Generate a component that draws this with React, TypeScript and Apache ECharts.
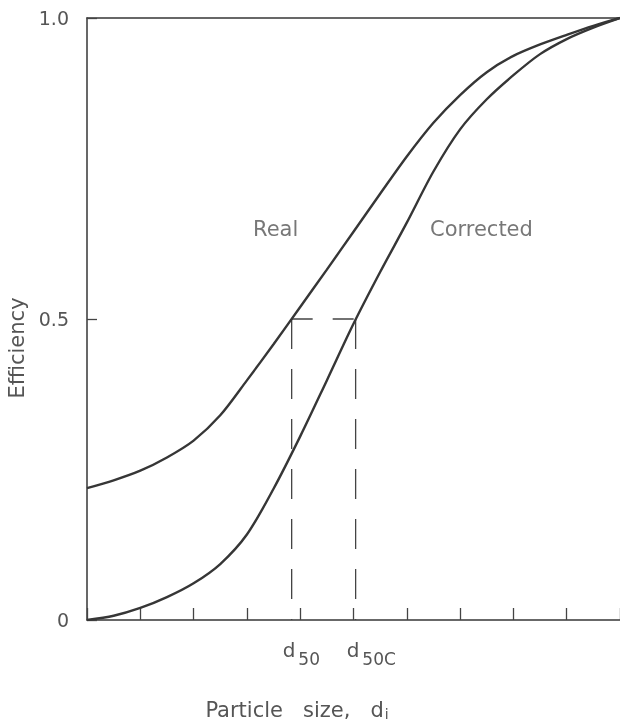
import React, { useEffect, useRef } from "react";
import * as echarts from "echarts";

// Particle size (arbitrary units, 0..10 across the axis) and efficiency
const sizeX = [0, 0.5, 1, 1.5, 2, 2.5, 3, 3.5, 4, 4.5, 5, 5.5, 6, 6.5, 7, 7.5, 8, 8.5, 9, 9.5, 10];
const realY = [0.219, 0.232, 0.248, 0.27, 0.298, 0.34, 0.398, 0.458, 0.52, 0.582, 0.645, 0.708, 0.77, 0.826, 0.872, 0.91, 0.937, 0.956, 0.972, 0.987, 1.0];
const corrY = [0, 0.007, 0.02, 0.038, 0.061, 0.093, 0.142, 0.218, 0.305, 0.398, 0.492, 0.578, 0.66, 0.745, 0.815, 0.865, 0.905, 0.94, 0.965, 0.984, 1.0];

const d50 = 3.84;
const d50c = 5.04;
const halfEff = 0.5;

const yTickLabels: Record<string, string> = { "0": "0", "0.5": "0.5", "1": "1.0" };
const xCutLabels = ["{d|d}{s|50}", "{d|d}{s|50C}"];
const curveNames = ["Real", "Corrected"];
const curveLabelPos = [
  [3.54, 0.65],
  [7.4, 0.65],
];

const FONT = "DejaVu Sans";
const TEXT = "#555";
const LINE = "#363636";

export default function App() {
  const ref = useRef<HTMLDivElement>(null);

  useEffect(() => {
    if (!ref.current) return;
    const chart = echarts.init(ref.current, undefined, { renderer: "svg" });

    const zip = (xs: number[], ys: number[]) => xs.map((x, i) => [x, ys[i]]);
    const dash = (pts: number[][], pattern: number[]) => ({
      type: "line",
      data: pts,
      symbol: "none",
      silent: true,
      lineStyle: { color: "#444", width: 1.3, type: pattern },
      z: 1,
    });

    chart.setOption({
      animation: false,
      grid: { left: 87, right: 0, top: 18, bottom: 102, containLabel: false },
      xAxis: [
        {
          type: "value",
          min: 0,
          max: 10,
          interval: 1,
          position: "bottom",
          axisLine: { show: true, lineStyle: { color: LINE, width: 1.5 } },
          axisTick: { show: true, inside: true, length: 12, lineStyle: { color: "#444", width: 1.3 } },
          splitLine: { show: false },
          axisLabel: {
            show: true,
            customValues: [d50, d50c],
            formatter: (v: number) => (Math.abs(v - d50) < 1e-6 ? xCutLabels[0] : xCutLabels[1]),
            align: "left",
            margin: 20,
            padding: [0, 0, 0, -9],
            rich: {
              d: { fontFamily: FONT, fontSize: 20, color: TEXT, verticalAlign: "bottom", padding: [0, 0, 7, 0] },
              s: { fontFamily: FONT, fontSize: 17, color: TEXT, verticalAlign: "bottom", padding: [0, 0, 0, 3] },
            },
          },
        },
        {
          type: "value",
          min: 0,
          max: 10,
          position: "top",
          axisLine: { show: true, lineStyle: { color: LINE, width: 1.5 } },
          axisTick: { show: false },
          axisLabel: { show: false },
          splitLine: { show: false },
        },
      ],
      yAxis: {
        type: "value",
        min: 0,
        max: 1,
        interval: 0.5,
        axisLine: { show: true, lineStyle: { color: LINE, width: 1.5 } },
        axisTick: { show: true, inside: true, length: 10, lineStyle: { color: "#444", width: 1.3 } },
        splitLine: { show: false },
        axisLabel: {
          formatter: (v: number) => yTickLabels[String(v)] ?? String(v),
          fontFamily: FONT,
          fontSize: 19,
          color: TEXT,
          margin: 18,
        },
      },
      series: [
        {
          name: curveNames[0],
          type: "line",
          data: zip(sizeX, realY),
          smooth: 0.3,
          symbol: "none",
          lineStyle: { color: LINE, width: 2.4 },
          z: 3,
        },
        {
          name: curveNames[1],
          type: "line",
          data: zip(sizeX, corrY),
          smooth: 0.3,
          symbol: "none",
          lineStyle: { color: LINE, width: 2.4 },
          z: 3,
        },
        dash([[d50, halfEff], [d50, 0]], [30, 20]),
        dash([[d50, halfEff], [d50c, halfEff]], [21, 20]),
        dash([[d50c, halfEff], [d50c, 0]], [30, 20]),
        {
          type: "scatter",
          symbolSize: 0,
          silent: true,
          data: curveLabelPos.map((p, i) => ({
            value: p,
            label: {
              show: true,
              position: "inside",
              formatter: curveNames[i],
              fontFamily: FONT,
              fontSize: 21,
              color: TEXT,
            },
          })),
        },
      ],
      graphic: [
        {
          type: "text",
          x: 17,
          y: 348,
          rotation: Math.PI / 2,
          style: {
            text: "Efficiency",
            fontFamily: FONT,
            fontSize: 21,
            fill: TEXT,
            align: "center",
            verticalAlign: "middle",
          },
        },
        {
          type: "text",
          x: 297,
          y: 710,
          style: {
            text: "{a|Particle   size,   d}{b|i}",
            align: "center",
            verticalAlign: "middle",
            rich: {
              a: { fontFamily: FONT, fontSize: 21, fill: TEXT, color: TEXT },
              b: { fontFamily: FONT, fontSize: 14, fill: TEXT, color: TEXT, padding: [8, 0, 0, 1] },
            },
          },
        },
      ],
    });

    return () => chart.dispose();
  }, []);

  return (
    <div
      ref={ref}
      style={{ position: "fixed", left: 0, top: 0, width: 620, height: 722 }}
    />
  );
}
